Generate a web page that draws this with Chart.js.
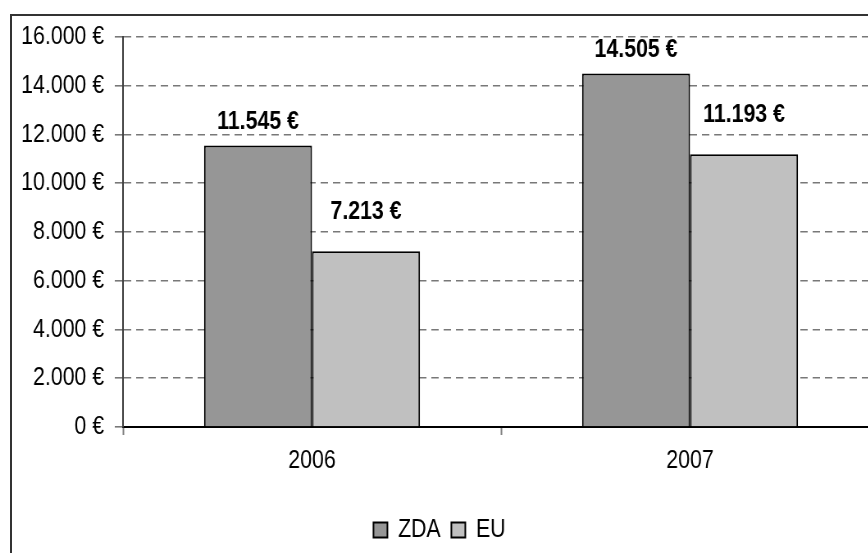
<!DOCTYPE html>
<html>
<head>
<meta charset="utf-8">
<script src="https://cdn.jsdelivr.net/npm/chart.js@4"></script>
<style>
  html, body { margin: 0; padding: 0; background: #fff; overflow: hidden; width: 868px; height: 553px; }
  .frame { position: absolute; left: 10px; top: 14px; width: 900px; height: 600px; border: 2px solid #333; box-sizing: border-box; }
  .squeeze { position: absolute; left: 0; top: 0; transform: scaleX(0.82); transform-origin: 0 0; }
</style>
</head>
<body>
<div class="frame"></div>
<div class="squeeze">
  <canvas id="chart" width="1092" height="553"></canvas>
</div>
<script>
// values
const years = ['2006', '2007'];
const zda = [11545, 14505];
const eu = [7213, 11193];
const seriesNames = ['ZDA', 'EU'];
const yTicks = [0, 2000, 4000, 6000, 8000, 10000, 12000, 14000, 16000];

const fontFamily = "'Liberation Sans', Arial, sans-serif";

// 11545 -> "11.545 €"
const euro = (v) => String(v).replace(/\B(?=(\d{3})+(?!\d))/g, '.') + ' €';

// value labels above the bars, EU ones sit a bit higher like in the original
const labelOffsets = [24, 39];
const valueLabels = {
    id: 'valueLabels',
    afterDatasetsDraw(chart) {
        const ctx = chart.ctx;
        ctx.save();
        ctx.font = 'bold 26px ' + fontFamily;
        ctx.fillStyle = '#000';
        ctx.textAlign = 'center';
        ctx.textBaseline = 'middle';
        chart.data.datasets.forEach((ds, i) => {
            chart.getDatasetMeta(i).data.forEach((bar, j) => {
                ctx.fillText(euro(ds.data[j]), bar.x, bar.y - labelOffsets[i]);
            });
        });
        ctx.restore();
    }
};

const canvas = document.getElementById('chart');

new Chart(canvas, {
    type: 'bar',
    data: {
        labels: years,
        datasets: [{
            label: seriesNames[0],
            data: zda,
            backgroundColor: '#969696',
            borderColor: '#000',
            borderWidth: 2
        }, {
            label: seriesNames[1],
            data: eu,
            backgroundColor: '#c0c0c0',
            borderColor: '#000',
            borderWidth: 2
        }]
    },
    options: {
        responsive: false,
        animation: false,
        layout: { padding: { left: 0, right: 20, top: 37, bottom: 0 } },
        datasets: {
            bar: { categoryPercentage: 0.5714, barPercentage: 1 }
        },
        scales: {
            x: {
                offset: true,
                grid: {
                    display: true,
                    drawOnChartArea: false,
                    offset: true,
                    tickLength: 8,
                    tickColor: '#808080',
                    tickWidth: 2
                },
                border: { display: true, color: '#000', width: 2 },
                ticks: {
                    color: '#000',
                    padding: 10,
                    font: { family: fontFamily, size: 26 }
                },
                afterFit(scale) { scale.height = 77; }
            },
            y: {
                min: 0,
                max: 16000,
                afterBuildTicks(scale) { scale.ticks = yTicks.map(v => ({ value: v })); },
                grid: {
                    color: '#787878',
                    lineWidth: 1.6,
                    tickLength: 10,
                    tickColor: '#787878',
                    tickBorderDash: []
                },
                // in v4 the dash of the grid lines lives under border
                border: { display: true, color: '#404040', width: 2, dash: [9, 6] },
                ticks: {
                    color: '#000',
                    padding: 13,
                    font: { family: fontFamily, size: 26 },
                    callback: (v) => euro(v)
                },
                afterFit(scale) { scale.width = 150; }
            }
        },
        plugins: {
            legend: {
                position: 'bottom',
                labels: {
                    color: '#000',
                    boxWidth: 17,
                    boxHeight: 15,
                    padding: 13,
                    font: { family: fontFamily, size: 26 }
                }
            },
            tooltip: { enabled: false }
        }
    },
    plugins: [valueLabels]
});
</script>
</body>
</html>
